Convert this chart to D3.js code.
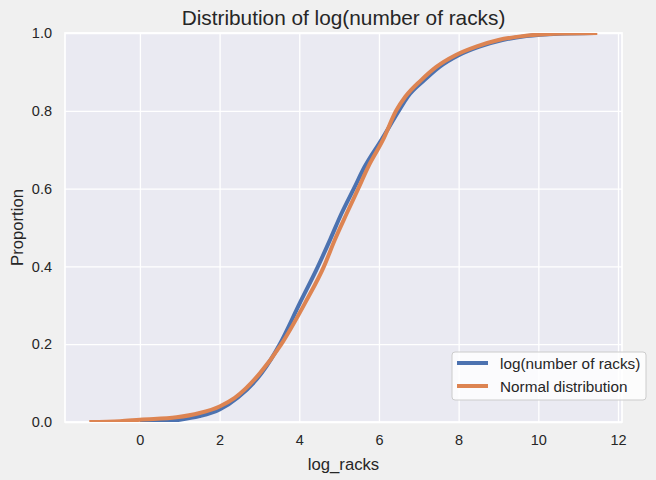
<!DOCTYPE html>
<html>
<head>
<meta charset="utf-8">
<script src="https://cdn.jsdelivr.net/npm/d3@7"></script>
<style>
  body { margin: 0; background: #f0f0f0; }
  text { font-family: "Liberation Sans", Arial, sans-serif; fill: #262626; }
</style>
</head>
<body>
<svg id="ecdf" width="656" height="480"></svg>
<script>
// values: x = log_racks, p = cumulative proportion
var rackX = [0.0, 0.5, 1.0, 1.5, 2.0, 2.46, 3.05, 3.51, 4.01, 4.47, 4.77, 5.06, 5.37, 5.64, 6.06, 6.5, 6.72, 7.14, 7.52, 8.0, 8.52, 9.1, 9.7, 10.5, 11.4];
var rackP = [0.0, 0.002, 0.006, 0.015, 0.032, 0.063, 0.125, 0.2, 0.305, 0.4, 0.468, 0.536, 0.6, 0.656, 0.725, 0.8, 0.836, 0.879, 0.913, 0.943, 0.965, 0.982, 0.992, 0.998, 1.0];

var normX = [-1.27, -0.5, 0.0, 0.92, 1.5, 2.0, 2.38, 3.01, 3.55, 4.14, 4.62, 4.89, 5.19, 5.48, 5.73, 6.1, 6.43, 6.66, 7.06, 7.44, 7.92, 8.44, 9.0, 9.6, 10.4, 11.48];
var normP = [0.0, 0.002, 0.006, 0.012, 0.023, 0.040, 0.062, 0.125, 0.2, 0.305, 0.4, 0.468, 0.536, 0.6, 0.656, 0.725, 0.8, 0.836, 0.879, 0.913, 0.943, 0.965, 0.982, 0.992, 0.998, 1.0];

var xTicks = [0, 2, 4, 6, 8, 10, 12];
var yTicks = [0.0, 0.2, 0.4, 0.6, 0.8, 1.0];
var seriesNames = ["log(number of racks)", "Normal distribution"];

var draw = function () {
    var svg = d3.select("#ecdf");
    var mLeft = 65, mRight = 622, mTop = 33, mBottom = 422;
    var font = "Liberation Sans, Arial, sans-serif";

    var x = d3.scaleLinear().domain([-1.88, 12.1]).range([mLeft, mRight]);
    var y = d3.scaleLinear().domain([0, 1]).range([mBottom, mTop]);
    var color = d3.scaleOrdinal(seriesNames, ["#4c72b0", "#dd8452"]);

    svg.append("rect")
        .attr("x", mLeft).attr("y", mTop)
        .attr("width", mRight - mLeft).attr("height", mBottom - mTop)
        .attr("fill", "#eaeaf2");

    svg.append("clipPath").attr("id", "plotclip")
        .append("rect")
        .attr("x", mLeft).attr("y", mTop)
        .attr("width", mRight - mLeft).attr("height", mBottom - mTop);

    // grid
    svg.append("g")
        .attr("transform", "translate(0," + mBottom + ")")
        .call(d3.axisBottom(x).tickValues(xTicks).tickSize(-(mBottom - mTop)).tickFormat(""))
        .call(g => g.select(".domain").remove())
        .call(g => g.selectAll("line").attr("stroke", "#fff").attr("stroke-width", 1.3));

    svg.append("g")
        .attr("transform", "translate(" + mLeft + ",0)")
        .call(d3.axisLeft(y).tickValues(yTicks).tickSize(-(mRight - mLeft)).tickFormat(""))
        .call(g => g.select(".domain").remove())
        .call(g => g.selectAll("line").attr("stroke", "#fff").attr("stroke-width", 1.3));

    // tick labels
    svg.append("g")
        .attr("transform", "translate(0," + mBottom + ")")
        .call(d3.axisBottom(x).tickValues(xTicks).tickSize(0).tickPadding(13))
        .call(g => g.select(".domain").remove())
        .call(g => g.selectAll("text").attr("font-size", "14.5px").attr("fill", "#262626")
            .style("font-family", font));

    svg.append("g")
        .attr("transform", "translate(" + mLeft + ",0)")
        .call(d3.axisLeft(y).tickValues(yTicks).tickSize(0).tickPadding(13).tickFormat(d3.format(".1f")))
        .call(g => g.select(".domain").remove())
        .call(g => g.selectAll("text").attr("font-size", "14.5px").attr("fill", "#262626")
            .style("font-family", font));

    // white spines
    svg.append("rect")
        .attr("x", mLeft).attr("y", mTop)
        .attr("width", mRight - mLeft).attr("height", mBottom - mTop)
        .attr("fill", "none")
        .attr("stroke", "#fff")
        .attr("stroke-width", 1.7);

    // curves
    var line = d3.line()
        .x(d => x(d[0]))
        .y(d => y(d[1]))
        .curve(d3.curveMonotoneX);

    var series = [d3.zip(rackX, rackP), d3.zip(normX, normP)];

    svg.append("g")
        .attr("clip-path", "url(#plotclip)")
        .selectAll("path")
        .data(series)
        .enter()
        .append("path")
        .attr("d", line)
        .attr("fill", "none")
        .attr("stroke", (d, i) => color(seriesNames[i]))
        .attr("stroke-width", 4)
        .attr("stroke-linejoin", "round");

    // titles
    svg.append("text")
        .attr("x", (mLeft + mRight) / 2).attr("y", 25)
        .attr("text-anchor", "middle")
        .attr("font-size", "20.8px")
        .text("Distribution of log(number of racks)");

    svg.append("text")
        .attr("x", (mLeft + mRight) / 2).attr("y", 470)
        .attr("text-anchor", "middle")
        .attr("font-size", "16.7px")
        .text("log_racks");

    svg.append("text")
        .attr("transform", "translate(23," + ((mTop + mBottom) / 2) + ") rotate(-90)")
        .attr("text-anchor", "middle")
        .attr("font-size", "16.7px")
        .text("Proportion");

    // legend
    var legend = svg.append("g").attr("transform", "translate(452,352)");

    legend.append("rect")
        .attr("width", 194).attr("height", 48)
        .attr("rx", 3)
        .attr("fill", "#fff").attr("fill-opacity", 0.8)
        .attr("stroke", "#cccccc");

    seriesNames.forEach(function (name, i) {
        legend.append("line")
            .attr("x1", 5).attr("x2", 36)
            .attr("y1", 11 + i * 23).attr("y2", 11 + i * 23)
            .attr("stroke", color(name))
            .attr("stroke-width", 4);
        legend.append("text")
            .attr("x", 48).attr("y", 17 + i * 23)
            .attr("font-size", "15.3px")
            .text(name);
    });
};

draw();
</script>
</body>
</html>
